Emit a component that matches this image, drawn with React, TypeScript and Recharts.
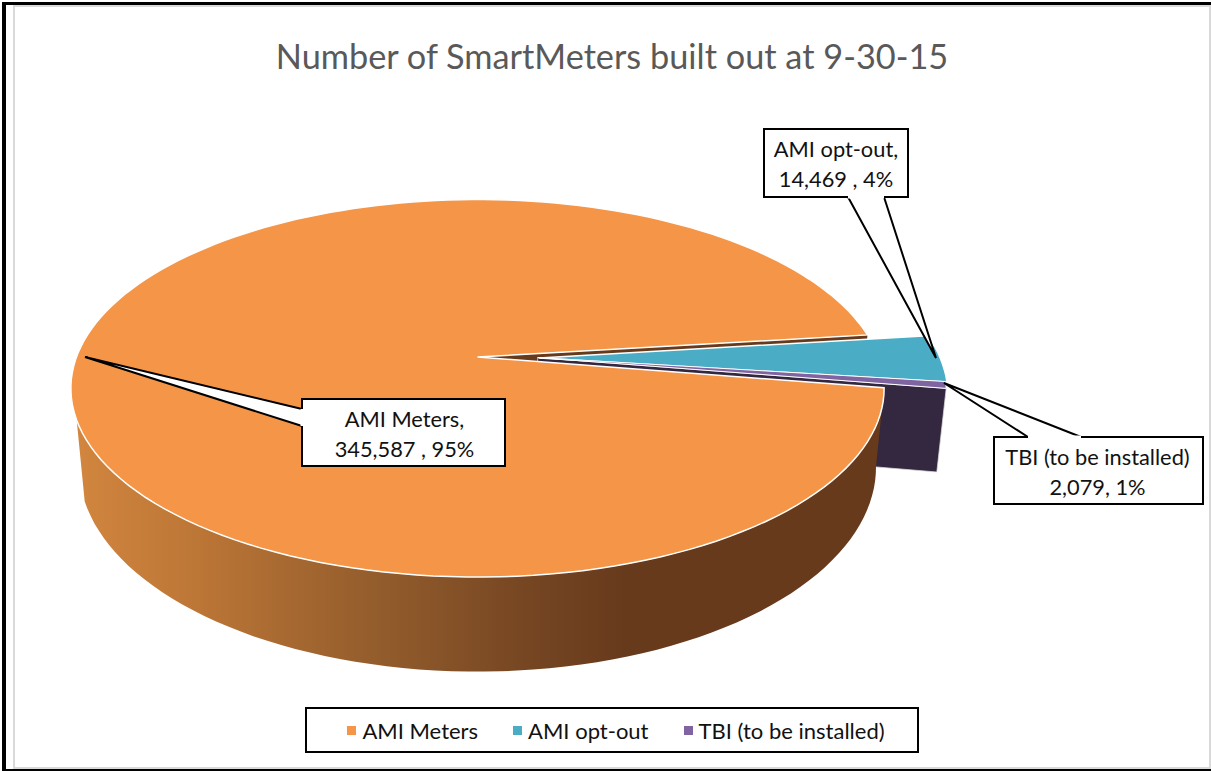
import { Legend, Pie, PieChart } from 'recharts';

const categories = ['AMI Meters', 'AMI opt-out', 'TBI (to be installed)'];
const meterCounts = [345587, 14469, 2079];
const sliceColors = ['#F59547', '#4BACC6', '#8064A2'];
const faceColors = ['#673A1C', '#4BACC6', '#33283F'];
const calloutLines = [
  ['AMI Meters,', '345,587 , 95%'],
  ['AMI opt-out,', '14,469 , 4%'],
  ['TBI (to be installed)', '2,079, 1%'],
];

const chartData = categories.map((name, i) => ({
  name,
  value: meterCounts[i],
  fill: sliceColors[i],
}));

const FONT = 'Lato, sans-serif';
const PERSPECTIVE = 0.166;
const TOP_Y_RATIO = 184 / 402;
const BOTTOM_PLANE = { scale: 0.98, dy: 76, yRatio: 199.5 / 402 };
const EXPLODE = [
  [0, 0],
  [0.153, 0.005],
  [0.15, 0.003],
];
const EXTRA_DEPTH = [0, 0, 5];

// callout boxes: x, y, width, height, then the wedge tip and its two feet on the box
const CALLOUTS = [
  { box: [302, 399, 203, 67], tip: [85, 357], feet: [[302, 426], [302, 409]], textY: 427, dx: 1 },
  { box: [764, 129, 144, 68], tip: [936, 358], feet: [[848, 197], [884, 197]], textY: 157, dx: 0 },
  { box: [994, 437, 209, 67], tip: [944, 383], feet: [[1028, 437], [1081, 437]], textY: 465, dx: -1 },
];

type Pt = [number, number];

// ground plane (u, v) => screen, v runs towards the viewer
function project(p: any, u: number, v: number, lower = false): Pt {
  const r = p.outerRadius;
  const d = 1 - PERSPECTIVE * v;
  if (lower) {
    return [
      p.cx + (r * BOTTOM_PLANE.scale * u) / d,
      p.cy + BOTTOM_PLANE.dy + EXTRA_DEPTH[p.index] + (r * BOTTOM_PLANE.yRatio * v) / d,
    ];
  }
  return [p.cx + (r * u) / d, p.cy + (r * TOP_Y_RATIO * v) / d];
}

function rimPoint(p: any, angle: number, lower = false): Pt {
  const [du, dv] = EXPLODE[p.index];
  const rad = (angle * Math.PI) / 180;
  return project(p, Math.cos(rad) + du, -Math.sin(rad) + dv, lower);
}

function apexPoint(p: any, lower = false): Pt {
  const [du, dv] = EXPLODE[p.index];
  return project(p, du, dv, lower);
}

function rimArc(p: any, from: number, to: number, lower = false): Pt[] {
  const steps = Math.max(2, Math.ceil(Math.abs(to - from) / 2));
  const pts: Pt[] = [];
  for (let i = 0; i <= steps; i++) {
    pts.push(rimPoint(p, from + ((to - from) * i) / steps, lower));
  }
  return pts;
}

const toPath = (pts: Pt[]) =>
  'M' + pts.map((q) => q[0].toFixed(1) + ',' + q[1].toFixed(1)).join('L') + 'Z';

// cut faces seen through the gap
function renderFace(p: any) {
  if (p.index === 1) return <g />;
  const pts = [
    apexPoint(p),
    rimPoint(p, p.endAngle),
    rimPoint(p, p.endAngle, true),
    apexPoint(p, true),
  ];
  return (
    <path
      d={toPath(pts)}
      fill={faceColors[p.index]}
      stroke={p.index === 2 ? '#ddd' : 'none'}
      strokeWidth={0.75}
    />
  );
}

// outer wall of the big slice, only its front part shows
function renderWall(p: any) {
  if (p.index !== 0) return <g />;
  const stop = -161;
  const pts = [...rimArc(p, p.startAngle, stop), ...rimArc(p, stop, p.startAngle, true)];
  return (
    <g>
      <defs>
        <linearGradient id="wallFill" gradientUnits="userSpaceOnUse" x1="75" y1="0" x2="885" y2="0">
          <stop offset="0" stopColor="#D2863F" />
          <stop offset="0.15" stopColor="#BC7636" />
          <stop offset="0.35" stopColor="#975F2D" />
          <stop offset="0.55" stopColor="#774723" />
          <stop offset="0.68" stopColor="#673A1C" />
          <stop offset="1" stopColor="#673A1C" />
        </linearGradient>
      </defs>
      <path d={toPath(pts)} fill="url(#wallFill)" />
    </g>
  );
}

function renderTop(p: any) {
  const pts = [apexPoint(p), ...rimArc(p, p.startAngle, p.endAngle)];
  return (
    <path
      d={toPath(pts)}
      fill={p.fill}
      stroke="#fff"
      strokeWidth={p.index === 2 ? 1 : 1.5}
      strokeLinejoin="miter"
    />
  );
}

function renderCallout(p: any) {
  const c = CALLOUTS[p.index];
  const [x, y, w, h] = c.box;
  const wedge = [c.feet[0], c.tip, c.feet[1]];
  return (
    <g key={p.index}>
      <rect x={x} y={y} width={w} height={h} fill="#fff" stroke="#000" strokeWidth={2} />
      <path
        d={'M' + wedge.map((q) => q.join(',')).join('L')}
        fill="#fff"
        stroke="#000"
        strokeWidth={2}
      />
      <path d={`M${c.feet[0].join(',')}L${c.feet[1].join(',')}`} stroke="#fff" strokeWidth={3} />
      {calloutLines[p.index].map((line, i) => (
        <text
          key={line}
          x={x + w / 2 + c.dx}
          y={c.textY + i * 30}
          textAnchor="middle"
          fontFamily={FONT}
          fontSize={21.8}
          fill="#111"
        >
          {line}
        </text>
      ))}
    </g>
  );
}

function ChartLegend({ payload }: any) {
  // every Pie layer reports its slices, keep one entry for each category
  const items = (payload || []).filter(
    (item: any, i: number, all: any[]) => all.findIndex((o) => o.value === item.value) === i,
  );
  return (
    <div
      style={{
        boxSizing: 'border-box',
        width: 614,
        height: 46,
        border: '2px solid #000',
        background: '#fff',
        display: 'flex',
        alignItems: 'center',
        justifyContent: 'center',
        gap: 35,
        paddingLeft: 8,
        fontFamily: FONT,
        fontSize: 22,
        color: '#111',
        whiteSpace: 'nowrap',
      }}
    >
      {items.map((item: any) => (
        <span key={item.value} style={{ display: 'flex', alignItems: 'center', gap: 6 }}>
          <span style={{ width: 9, height: 9, background: item.color }} />
          {item.value}
        </span>
      ))}
    </div>
  );
}

export default function App() {
  const pieProps = {
    data: chartData,
    dataKey: 'value',
    nameKey: 'name',
    cx: 477.5,
    cy: 357,
    outerRadius: 401,
    startAngle: -9.4,
    endAngle: -369.4,
    isAnimationActive: false,
  };

  return (
    <div style={{ position: 'absolute', left: 0, top: 0, width: 1211, height: 771, background: '#fff', overflow: 'hidden' }}>
      <div style={{ position: 'absolute', left: 2, top: 2, right: -4, bottom: 0, borderLeft: '4px solid #000', borderTop: '3px solid #000', borderBottom: '2px solid #000' }} />
      <div style={{ position: 'absolute', left: 13, top: 5, right: 0, bottom: 2, border: '2px solid #d9d9d9' }} />
      <div style={{ position: 'absolute', left: 0, top: 0 }}>
        <PieChart width={1211} height={771} margin={{ top: 0, right: 0, bottom: 0, left: 0 }}>
          <Pie {...pieProps} legendType="none" shape={renderFace} />
          <Pie {...pieProps} legendType="none" shape={renderWall} />
          <Pie {...pieProps} legendType="square" shape={renderTop} label={renderCallout} labelLine={false} />
          <text x={612} y={69} textAnchor="middle" fontFamily={FONT} fontSize={34.3} fill="#595959">
            Number of SmartMeters built out at 9-30-15
          </text>
          <Legend
            content={<ChartLegend />}
            layout="horizontal"
            verticalAlign="bottom"
            wrapperStyle={{ left: 305, top: 707, bottom: 'auto', width: 614, height: 46 }}
          />
        </PieChart>
      </div>
    </div>
  );
}
